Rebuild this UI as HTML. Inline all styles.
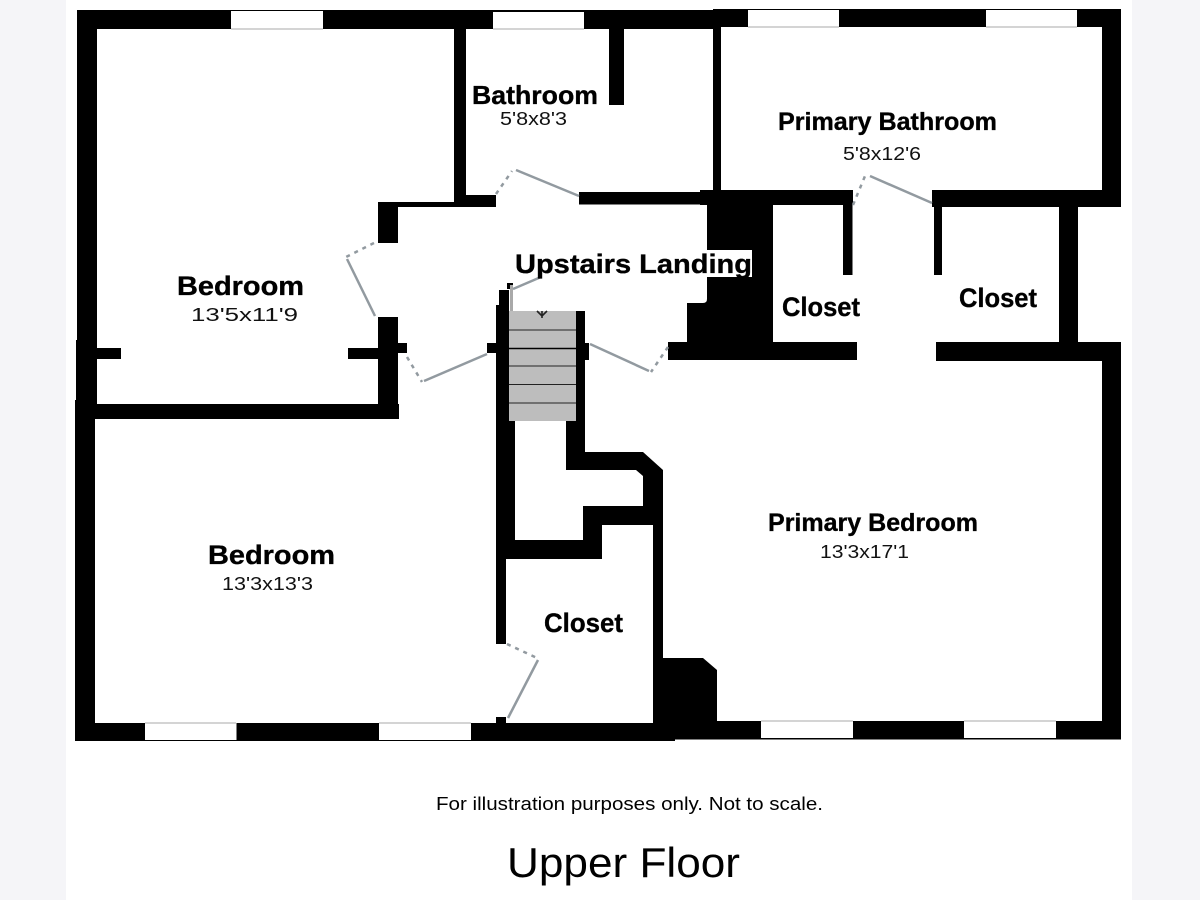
<!DOCTYPE html>
<html lang="en">
<head>
<meta charset="utf-8">
<title>Upper Floor</title>
<style>
html,body{margin:0;padding:0;background:#fff}
svg{display:block}
text{font-family:"Liberation Sans",sans-serif;fill:#000}
.b{font-weight:700;stroke:#000;stroke-width:.35px}
.d{fill:#111;font-size:18px}
</style>
</head>
<body>
<svg width="1200" height="900" viewBox="0 0 1200 900" xmlns="http://www.w3.org/2000/svg">
<rect width="1200" height="900" fill="#fff"/>
<rect x="0" y="0" width="66" height="900" fill="#f5f5f8"/>
<rect x="1132" y="0" width="68" height="900" fill="#f5f5f8"/>

<g fill="#000">
<!-- outer -->
<rect x="77" y="10" width="643" height="19"/>
<rect x="713" y="9" width="408" height="18"/>
<rect x="77" y="10" width="20" height="395"/>
<rect x="76" y="340" width="5" height="65"/>
<rect x="75" y="400" width="20" height="341"/>
<rect x="75" y="723" width="600" height="18"/>
<rect x="660" y="721" width="461" height="18.500"/>
<rect x="1102" y="9" width="19" height="198"/>
<rect x="1102" y="342" width="19" height="397"/>
<!-- left bedroom -->
<rect x="96" y="348" width="25" height="11"/>
<rect x="348" y="348" width="32" height="11"/>
<rect x="396" y="343" width="11" height="10"/>
<rect x="90" y="404" width="309" height="15"/>
<rect x="378" y="317" width="20" height="102"/>
<rect x="378" y="202" width="20" height="41"/>
<rect x="378" y="202" width="118" height="5"/>
<rect x="466" y="195" width="30" height="12"/>
<rect x="454" y="20" width="12" height="187"/>
<!-- bathrooms -->
<rect x="609" y="20" width="15" height="85"/>
<rect x="713" y="20" width="8" height="175"/>
<rect x="579" y="192" width="135" height="12.500"/>
<rect x="700" y="190" width="153" height="15"/>
<rect x="932" y="190" width="189" height="17"/>
<rect x="843" y="200" width="9.500" height="75"/>
<rect x="934" y="200" width="8" height="75"/>
<rect x="1059" y="200" width="19" height="150"/>
<rect x="936" y="342" width="185" height="19"/>
<!-- central mass -->
<path d="M707 200H773V342H857V360H668V342H687V303H703Q707 303 707 299V277H752V250H707Z"/>
<!-- stair walls -->
<rect x="499" y="290" width="10" height="20"/>
<rect x="507" y="283" width="6" height="6"/>
<rect x="496" y="305" width="13" height="117"/>
<rect x="487" y="343" width="10" height="10"/>
<rect x="576" y="311" width="9" height="112"/>
<rect x="584" y="343" width="5" height="17"/>
<rect x="496" y="420" width="19" height="130"/>
<rect x="496" y="540" width="10" height="104"/>
<rect x="566" y="420" width="19" height="40"/>
<path d="M566 452H643L663 470V723H653V525H602V559H496V540H583V506H643V476L636 470H566Z"/>
<path d="M653 658H703L717 670V725H653Z"/>
<rect x="496" y="717" width="10" height="8"/>
</g>

<!-- windows -->
<g fill="#fff">
<rect x="231" y="11" width="92" height="18"/>
<rect x="493" y="12" width="91" height="17"/>
<rect x="748" y="10" width="91" height="17"/>
<rect x="986" y="10" width="91" height="17"/>
<rect x="145" y="723" width="91.500" height="17"/>
<rect x="379" y="723" width="92" height="17"/>
<rect x="761" y="721" width="92" height="17"/>
<rect x="964" y="721" width="92" height="17"/>
</g>
<g stroke="#aaa" stroke-width="1">
<path d="M231 29H323M493 29H584M748 27H839M986 27H1077M145 723H236M379 723H471M761 721H853M964 721H1056"/>
</g>

<!-- stairs -->
<rect x="509" y="311" width="67" height="110" fill="#bdbdbd"/>
<g stroke="#222" stroke-width="1">
<path d="M509 330H576M509 366H576M509 384.500H576M509 403H576"/>
</g>
<path d="M509 348.500H576" stroke="#000" stroke-width="1.500"/>
<path d="M537 311L542 316L547 311M542 311V318" fill="none" stroke="#222" stroke-width="1.600"/>
<rect x="510" y="285" width="3" height="26" fill="#a9a9a9"/>

<!-- doors -->
<g fill="none" stroke="#929aa0" stroke-width="2.500">
<path d="M516 170L579 196"/>
<path d="M347 259L375 316"/>
<path d="M424 381L487 354"/>
<path d="M649 371L590 344"/>
<path d="M870 176L932 203"/>
<path d="M538 660L508 718"/>
<path d="M513 289L541 277"/>
<path stroke-dasharray="4 5" d="M496 194L512 171"/>
<path stroke-dasharray="4 5" d="M374 243L346 257"/>
<path stroke-dasharray="4 5" d="M407 357L422 382"/>
<path stroke-dasharray="4 5" d="M668 347L651 372"/>
<path stroke-dasharray="4 5" d="M853 205L865 176"/>
<path stroke-dasharray="4 5" d="M507 644L537 658"/>
</g>

<!-- labels -->
<text class="b" x="472" y="104" font-size="26" textLength="126" lengthAdjust="spacingAndGlyphs">Bathroom</text>
<text class="d" x="500" y="125" textLength="67" lengthAdjust="spacingAndGlyphs">5'8x8'3</text>
<text class="b" x="778" y="130" font-size="25" textLength="219" lengthAdjust="spacingAndGlyphs">Primary Bathroom</text>
<text class="d" x="843" y="160" textLength="78" lengthAdjust="spacingAndGlyphs">5'8x12'6</text>
<text class="b" x="177" y="295" font-size="27" textLength="127" lengthAdjust="spacingAndGlyphs">Bedroom</text>
<text class="d" x="191" y="321" textLength="107" lengthAdjust="spacingAndGlyphs">13'5x11'9</text>
<text class="b" x="515" y="273" font-size="27" textLength="237" lengthAdjust="spacingAndGlyphs">Upstairs Landing</text>
<text class="b" x="782" y="316" font-size="27" textLength="78" lengthAdjust="spacingAndGlyphs">Closet</text>
<text class="b" x="959" y="307" font-size="27" textLength="78" lengthAdjust="spacingAndGlyphs">Closet</text>
<text class="b" x="544" y="632" font-size="27" textLength="79" lengthAdjust="spacingAndGlyphs">Closet</text>
<text class="b" x="208" y="564" font-size="27" textLength="127" lengthAdjust="spacingAndGlyphs">Bedroom</text>
<text class="d" x="222" y="590" textLength="91" lengthAdjust="spacingAndGlyphs">13'3x13'3</text>
<text class="b" x="768" y="531" font-size="25" textLength="210" lengthAdjust="spacingAndGlyphs">Primary Bedroom</text>
<text class="d" x="820" y="558" textLength="89" lengthAdjust="spacingAndGlyphs">13'3x17'1</text>
<text x="436" y="810" font-size="18" textLength="387" lengthAdjust="spacingAndGlyphs">For illustration purposes only. Not to scale.</text>
<text x="507" y="877" font-size="42" textLength="233" lengthAdjust="spacingAndGlyphs">Upper Floor</text>
</svg>
</body>
</html>
